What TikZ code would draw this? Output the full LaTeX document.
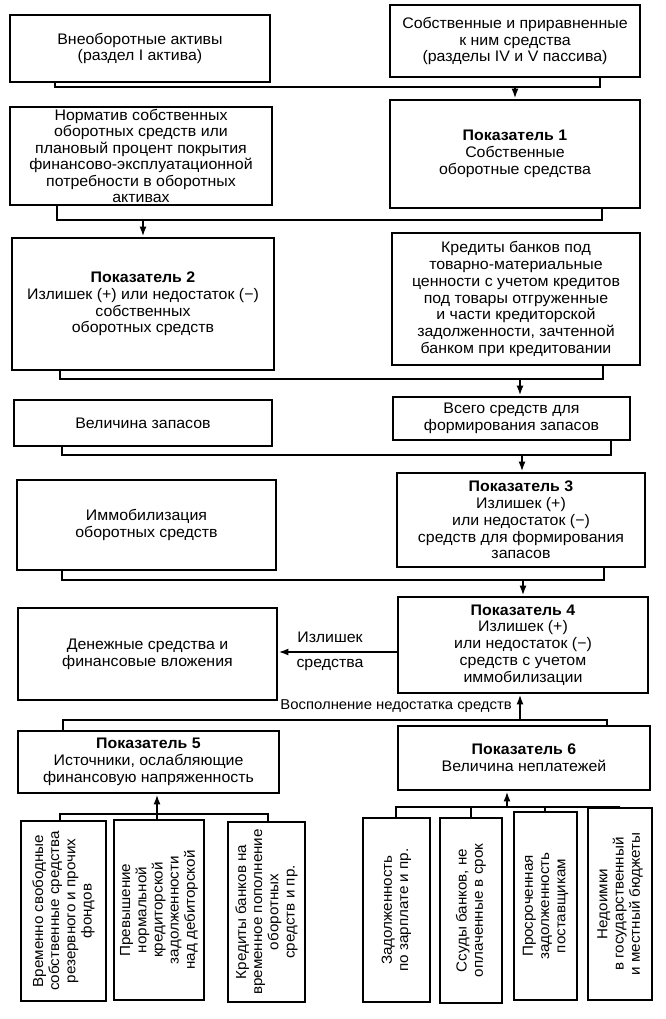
\documentclass[tikz,border=0pt]{standalone}
\usepackage{fontspec}
\setmainfont{Liberation Sans}[FakeStretch=1.04]
\usetikzlibrary{arrows.meta}
\newcommand\myfs{\fontsize{15.3}{16.8}\selectfont}
\newcommand\myvfs{\fontsize{14.6}{16.2}\selectfont}
\begin{document}
\begin{tikzpicture}[x=1pt,y=-1pt,
  box/.style={draw, line width=2.7pt, align=center, inner sep=1pt, font=\myfs},
  vbox/.style={draw, line width=2.7pt, align=center, inner sep=1pt, font=\myvfs, rotate=90},
  bus/.style={line width=2.1pt},
  arr/.style={line width=2.1pt, -{Latex[length=10pt,width=7pt]}},
  lbl/.style={font=\myfs, inner sep=1pt}]
\useasboundingbox (0,0) rectangle (665,1019);

% row 1
\node[box, minimum width=260, minimum height=67] (b1) at (140,48.5) {Внеоборотные активы\\(раздел I актива)};
\node[box, minimum width=250, minimum height=72] (b2) at (515,41) {Собственные и приравненные\\к ним средства\\(разделы IV и V пассива)};
% row 2
\node[box, minimum width=262, minimum height=98, font=\fontsize{15.3}{16.4}\selectfont] (nrm) at (141,156) {Норматив собственных\\оборотных средств или\\плановый процент покрытия\\финансово-эксплуатационной\\потребности в оборотных\\активах};
\node[box, minimum width=250, minimum height=108] (p1) at (515,154) {\textbf{Показатель 1}\\Собственные\\оборотные средства};
% row 3
\node[box, minimum width=262, minimum height=132] (p2) at (143,304) {\textbf{Показатель 2}\\Излишек (+) или недостаток (−)\\собственных\\оборотных средств};
\node[box, minimum width=248, minimum height=132] (kr) at (516,299) {Кредиты банков под\\товарно-материальные\\ценности с учетом кредитов\\под товары отгруженные\\и части кредиторской\\задолженности, зачтенной\\банком при кредитовании};
% row 4
\node[box, minimum width=258, minimum height=46] (vz) at (143,423) {Величина запасов};
\node[box, minimum width=237, minimum height=43] (vs) at (511.5,418.5) {Всего средств для\\формирования запасов};
% row 5
\node[box, minimum width=259, minimum height=90] (im) at (146.5,525) {Иммобилизация\\оборотных средств};
\node[box, minimum width=248, minimum height=94] (p3) at (521,520) {\textbf{Показатель 3}\\Излишек (+)\\или недостаток (−)\\средств для формирования\\запасов};
% row 6
\node[box, minimum width=259, minimum height=92] (dn) at (147.5,654) {Денежные средства и\\финансовые вложения};
\node[box, minimum width=250, minimum height=96] (p4) at (523,645) {\textbf{Показатель 4}\\Излишек (+)\\или недостаток (−)\\средств с учетом\\иммобилизации};
% row 7
\node[box, minimum width=261, minimum height=62] (p5) at (148.5,762) {\textbf{Показатель 5}\\Источники, ослабляющие\\финансовую напряженность};
\node[box, minimum width=252, minimum height=64] (p6) at (524,758) {\textbf{Показатель 6}\\Величина неплатежей};
% bottom rotated boxes
\node[vbox, minimum width=180, minimum height=85] (l1) at (63.5,911) {Временно свободные\\собственные средства\\резервного и прочих\\фондов};
\node[vbox, minimum width=180, minimum height=90] (l2) at (159,910) {Превышение\\нормальной\\кредиторской\\задолженности\\над дебиторской};
\node[vbox, minimum width=180, minimum height=77] (l3) at (266.5,912) {Кредиты банков на\\временное пополнение\\оборотных\\средств и пр.};
\node[vbox, minimum width=184, minimum height=67] (r1) at (396.5,910) {Задолженность\\по зарплате и пр.};
\node[vbox, minimum width=185, minimum height=62] (r2) at (471,910.5) {Ссуды банков, не\\оплаченные в срок};
\node[vbox, minimum width=188, minimum height=63] (r3) at (545.5,906) {Просроченная\\задолженность\\поставщикам};
\node[vbox, minimum width=192, minimum height=64] (r4) at (620,904) {Недоимки\\в государственный\\и местный бюджеты};

% connector 1
\coordinate (c1l) at (55,87); \coordinate (c1r) at (600,87); \coordinate (c1m) at (515,87);
\draw[bus] (b1.south -| c1l) -- (c1l) -- (c1r) -- (b2.south -| c1r);
\draw[arr] (c1m) -- (p1.north -| c1m);
% connector 2
\coordinate (c2l) at (57,220); \coordinate (c2r) at (602,220); \coordinate (c2m) at (143,220);
\draw[bus] (nrm.south -| c2l) -- (c2l) -- (c2r) -- (p1.south -| c2r);
\draw[arr] (c2m) -- (p2.north -| c2m);
% connector 3
\coordinate (c3l) at (60,379); \coordinate (c3r) at (603,379); \coordinate (c3m) at (520,379);
\draw[bus] (p2.south -| c3l) -- (c3l) -- (c3r) -- (kr.south -| c3r);
\draw[arr] (c3m) -- (vs.north -| c3m);
% connector 4
\coordinate (c4l) at (62,455); \coordinate (c4r) at (611,455); \coordinate (c4m) at (522,455);
\draw[bus] (vz.south -| c4l) -- (c4l) -- (c4r) -- (vs.south -| c4r);
\draw[arr] (c4m) -- (p3.north -| c4m);
% connector 5
\coordinate (c5l) at (62,580); \coordinate (c5r) at (604,580); \coordinate (c5m) at (523,580);
\draw[bus] (im.south -| c5l) -- (c5l) -- (c5r) -- (p3.south -| c5r);
\draw[arr] (c5m) -- (p4.north -| c5m);
% surplus arrow
\coordinate (sy) at (0,652);
\draw[arr] (p4.west |- sy) -- (dn.east |- sy);
\node[lbl] (l_izl) at (330,637) {Излишек};
\node[lbl] (l_sr) at (330,665) {средства};
% connector 6
\coordinate (c6l) at (63,720); \coordinate (c6r) at (607,720); \coordinate (c6m) at (520,720);
\draw[bus] (p5.north -| c6l) -- (c6l) -- (c6r) -- (p6.north -| c6r);
\draw[arr] (c6m) -- (p4.south -| c6m);
\node[lbl, anchor=east, font=\fontsize{14.3}{16}\selectfont] (l_vos) at (513,706) {Восполнение недостатка средств};
% bottom left bus
\coordinate (c7l) at (60,814); \coordinate (c7r) at (268,814); \coordinate (c7m) at (157,814);
\draw[bus] (l1.east -| c7l) -- (c7l) -- (c7r) -- (l3.east -| c7r);
\draw[arr] (l2.east -| c7m) -- (p5.south -| c7m);
% bottom right bus
\coordinate (c8a) at (396,807); \coordinate (c8b) at (471,807); \coordinate (c8c) at (545,807); \coordinate (c8d) at (620,807); \coordinate (c8m) at (507,807);
\draw[bus] (r1.east -| c8a) -- (c8a) -- (c8d) -- (r4.east -| c8d);
\draw[bus] (c8b) -- (r2.east -| c8b);
\draw[bus] (c8c) -- (r3.east -| c8c);
\draw[arr] (c8m) -- (p6.south -| c8m);
\end{tikzpicture}
\end{document}
